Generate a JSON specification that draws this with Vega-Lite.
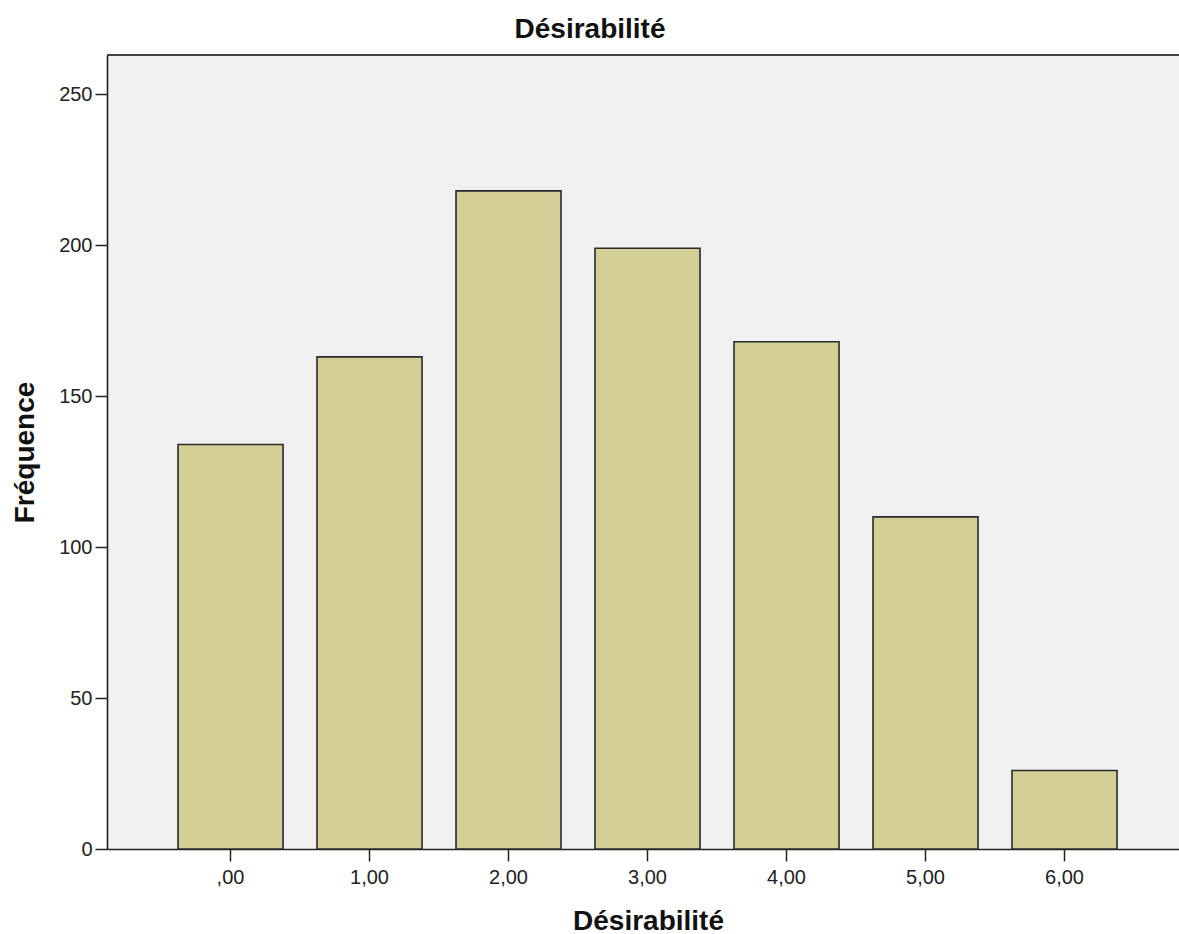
{
  "$schema": "https://vega.github.io/schema/vega-lite/v6.json",
  "autosize": "none",
  "width": 1072,
  "height": 794,
  "padding": {"left": 107, "top": 55, "right": 0, "bottom": 85},
  "background": "white",
  "config": {
    "view": {"stroke": null, "fill": "#f0f0f0"},
    "font": "Liberation Sans"
  },
  "title": {
    "text": "Désirabilité",
    "font": "Liberation Sans",
    "fontSize": 28,
    "fontWeight": "bold",
    "color": "#111",
    "anchor": "middle",
    "frame": "group",
    "dx": -53,
    "dy": 27,
    "baseline": "alphabetic",
    "offset": 15
  },
  "data": {
    "values": [
      {"Désirabilité": ",00", "Fréquence": 134},
      {"Désirabilité": "1,00", "Fréquence": 163},
      {"Désirabilité": "2,00", "Fréquence": 218},
      {"Désirabilité": "3,00", "Fréquence": 199},
      {"Désirabilité": "4,00", "Fréquence": 168},
      {"Désirabilité": "5,00", "Fréquence": 110},
      {"Désirabilité": "6,00", "Fréquence": 26}
    ]
  },
  "layer": [
    {
      "mark": {"type": "bar", "fill": "#d3cf96", "stroke": "#2a2a2a", "strokeWidth": 1.6},
      "encoding": {
        "x": {
          "field": "Désirabilité",
          "type": "ordinal",
          "sort": null,
          "scale": {"paddingInner": 0.2446, "paddingOuter": 0.4784, "align": 0.534},
          "axis": {
            "labelAngle": 0,
            "labelFontSize": 20,
            "labelColor": "#222",
            "labelPadding": 6,
            "tickSize": 12,
            "tickColor": "#222",
            "tickWidth": 1.5,
            "domainColor": "#222",
            "domainWidth": 1.6,
            "title": "Désirabilité",
            "titleFontSize": 28,
            "titleFontWeight": "bold",
            "titleColor": "#111",
            "titleBaseline": "alphabetic",
            "titleX": 541,
            "titleY": 80
          }
        },
        "y": {
          "field": "Fréquence",
          "type": "quantitative",
          "scale": {"domain": [0, 263], "nice": false},
          "axis": {
            "values": [0, 50, 100, 150, 200, 250],
            "grid": false,
            "labelFontSize": 20,
            "labelColor": "#222",
            "labelPadding": 3,
            "tickSize": 12,
            "tickColor": "#222",
            "tickWidth": 1.5,
            "domainColor": "#222",
            "domainWidth": 1.6,
            "title": "Fréquence",
            "titleFontSize": 28,
            "titleFontWeight": "bold",
            "titleColor": "#111",
            "titleBaseline": "alphabetic",
            "titleAngle": -90,
            "titleX": -74,
            "titleY": 397
          }
        }
      }
    },
    {
      "mark": {"type": "rule", "color": "#444", "strokeWidth": 2},
      "encoding": {"y": {"datum": 263}}
    }
  ]
}
